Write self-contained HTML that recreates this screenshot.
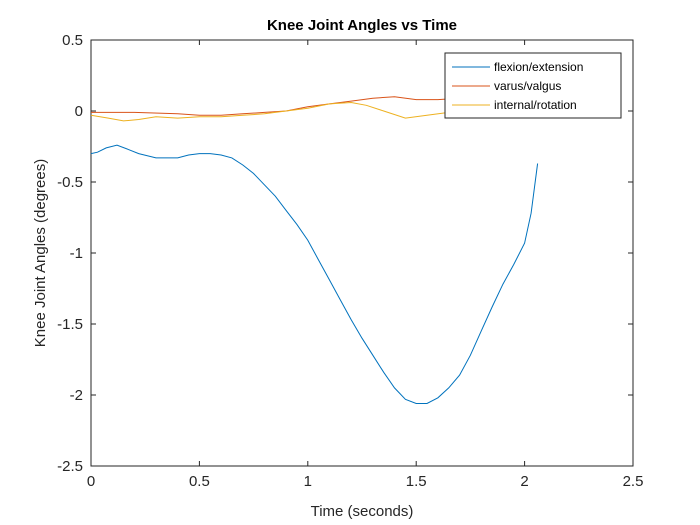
<!DOCTYPE html>
<html><head><meta charset="utf-8"><style>
body{margin:0;background:#fff;}
svg{display:block;font-family:"Liberation Sans",Arial,sans-serif;}
</style></head><body>
<svg id="chart" width="700" height="525">
<rect x="0" y="0" width="700" height="525" fill="#fff"/>
<text x="362" y="30" text-anchor="middle" font-size="15" font-weight="bold" fill="#000">Knee Joint Angles vs Time</text>
<g id="grid"></g>
<g id="series"></g>
<text x="362" y="516" text-anchor="middle" font-size="15" fill="#262626">Time (seconds)</text>
<text transform="translate(45,253) rotate(-90)" text-anchor="middle" font-size="15" fill="#262626">Knee Joint Angles (degrees)</text>
<g>
<rect x="445" y="53" width="176" height="65" fill="#fff" stroke="#262626" stroke-width="1"/>
<line x1="452" y1="67" x2="490" y2="67" stroke="#0072BD"/>
<text x="494" y="71" font-size="12" fill="#000">flexion/extension</text>
<line x1="452" y1="86" x2="490" y2="86" stroke="#D95319"/>
<text x="494" y="90" font-size="12" fill="#000">varus/valgus</text>
<line x1="452" y1="105" x2="490" y2="105" stroke="#EDB120"/>
<text x="494" y="109" font-size="12" fill="#000">internal/rotation</text>
</g>
</svg>
<script>
const xTicks=[0,0.5,1,1.5,2,2.5];
const xTickLabels=["0","0.5","1","1.5","2","2.5"];
const yTicks=[0.5,0,-0.5,-1,-1.5,-2,-2.5];
const yTickLabels=["0.5","0","-0.5","-1","-1.5","-2","-2.5"];
const flexT=[0,0.03,0.07,0.12,0.17,0.22,0.3,0.35,0.4,0.45,0.5,0.55,0.6,0.65,0.7,0.75,0.8,0.85,0.9,0.95,1.0,1.05,1.1,1.15,1.2,1.25,1.3,1.35,1.4,1.45,1.5,1.55,1.6,1.65,1.7,1.75,1.8,1.85,1.9,1.95,2.0,2.03,2.06];
const flexV=[-0.30,-0.29,-0.26,-0.24,-0.27,-0.30,-0.33,-0.33,-0.33,-0.31,-0.30,-0.30,-0.31,-0.33,-0.38,-0.44,-0.52,-0.60,-0.70,-0.80,-0.91,-1.05,-1.19,-1.33,-1.47,-1.60,-1.72,-1.84,-1.95,-2.03,-2.06,-2.06,-2.02,-1.95,-1.86,-1.72,-1.55,-1.38,-1.22,-1.08,-0.93,-0.72,-0.37];
const varT=[0,0.2,0.4,0.5,0.6,0.7,0.8,0.9,1.0,1.1,1.2,1.3,1.4,1.5,1.6,1.7,1.8,1.9,2.0,2.06];
const varV=[-0.01,-0.01,-0.02,-0.03,-0.03,-0.02,-0.01,0.0,0.03,0.05,0.07,0.09,0.10,0.08,0.08,0.09,0.09,0.09,0.09,0.09];
const intT=[0,0.08,0.15,0.22,0.3,0.4,0.5,0.6,0.7,0.8,0.9,1.0,1.1,1.2,1.27,1.35,1.45,1.55,1.65,1.75,1.9,2.06];
const intV=[-0.03,-0.05,-0.07,-0.06,-0.04,-0.05,-0.04,-0.04,-0.03,-0.02,0.0,0.02,0.05,0.06,0.04,0.0,-0.05,-0.03,-0.01,-0.01,-0.01,-0.01];
const L=91,R=633,T=40,B=466;
const sx=v=>L+(v-0)/(2.5-0)*(R-L);
const sy=v=>T+(0.5-v)/(0.5+2.5)*(B-T);
const NS="http://www.w3.org/2000/svg";
const grid=document.getElementById('grid');
function mk(tag,attrs,parent){const e=document.createElementNS(NS,tag);for(const k in attrs)e.setAttribute(k,attrs[k]);parent.appendChild(e);return e;}
const box=mk('rect',{x:L,y:T,width:R-L,height:B-T,fill:'none',stroke:'#262626','stroke-width':1},grid);


xTicks.forEach((v,i)=>{
 const x=sx(v);
 const t1=mk('line',{x1:x,y1:B,x2:x,y2:B-5,stroke:'#262626'},grid);
 
 
 const t2=mk('line',{x1:x,y1:T,x2:x,y2:T+5,stroke:'#262626'},grid);
 
 
 const lb=mk('text',{x:x,y:B+20,'text-anchor':'middle','font-size':15,fill:'#262626'},grid);
 lb.textContent=xTickLabels[i];
 
 
});
yTicks.forEach((v,i)=>{
 const y=sy(v);
 const t1=mk('line',{x1:L,y1:y,x2:L+5,y2:y,stroke:'#262626'},grid);
 
 
 const t2=mk('line',{x1:R,y1:y,x2:R-5,y2:y,stroke:'#262626'},grid);
 
 
 const lb=mk('text',{x:L-8,y:y+5,'text-anchor':'end','font-size':15,fill:'#262626'},grid);
 lb.textContent=yTickLabels[i];
 
 
});
const series=document.getElementById('series');
function line(ts,vs,color,name){
 const d=ts.map((t,i)=>(i?'L':'M')+sx(t).toFixed(1)+','+sy(vs[i]).toFixed(1)).join('');
 const p=mk('path',{d:d,fill:'none',stroke:color,'stroke-width':1},series);
 
 
}
line(varT,varV,'#D95319','varus-valgus-line');
line(intT,intV,'#EDB120','internal-rotation-line');
line(flexT,flexV,'#0072BD','flexion-extension-line');
</script>
</body></html>
